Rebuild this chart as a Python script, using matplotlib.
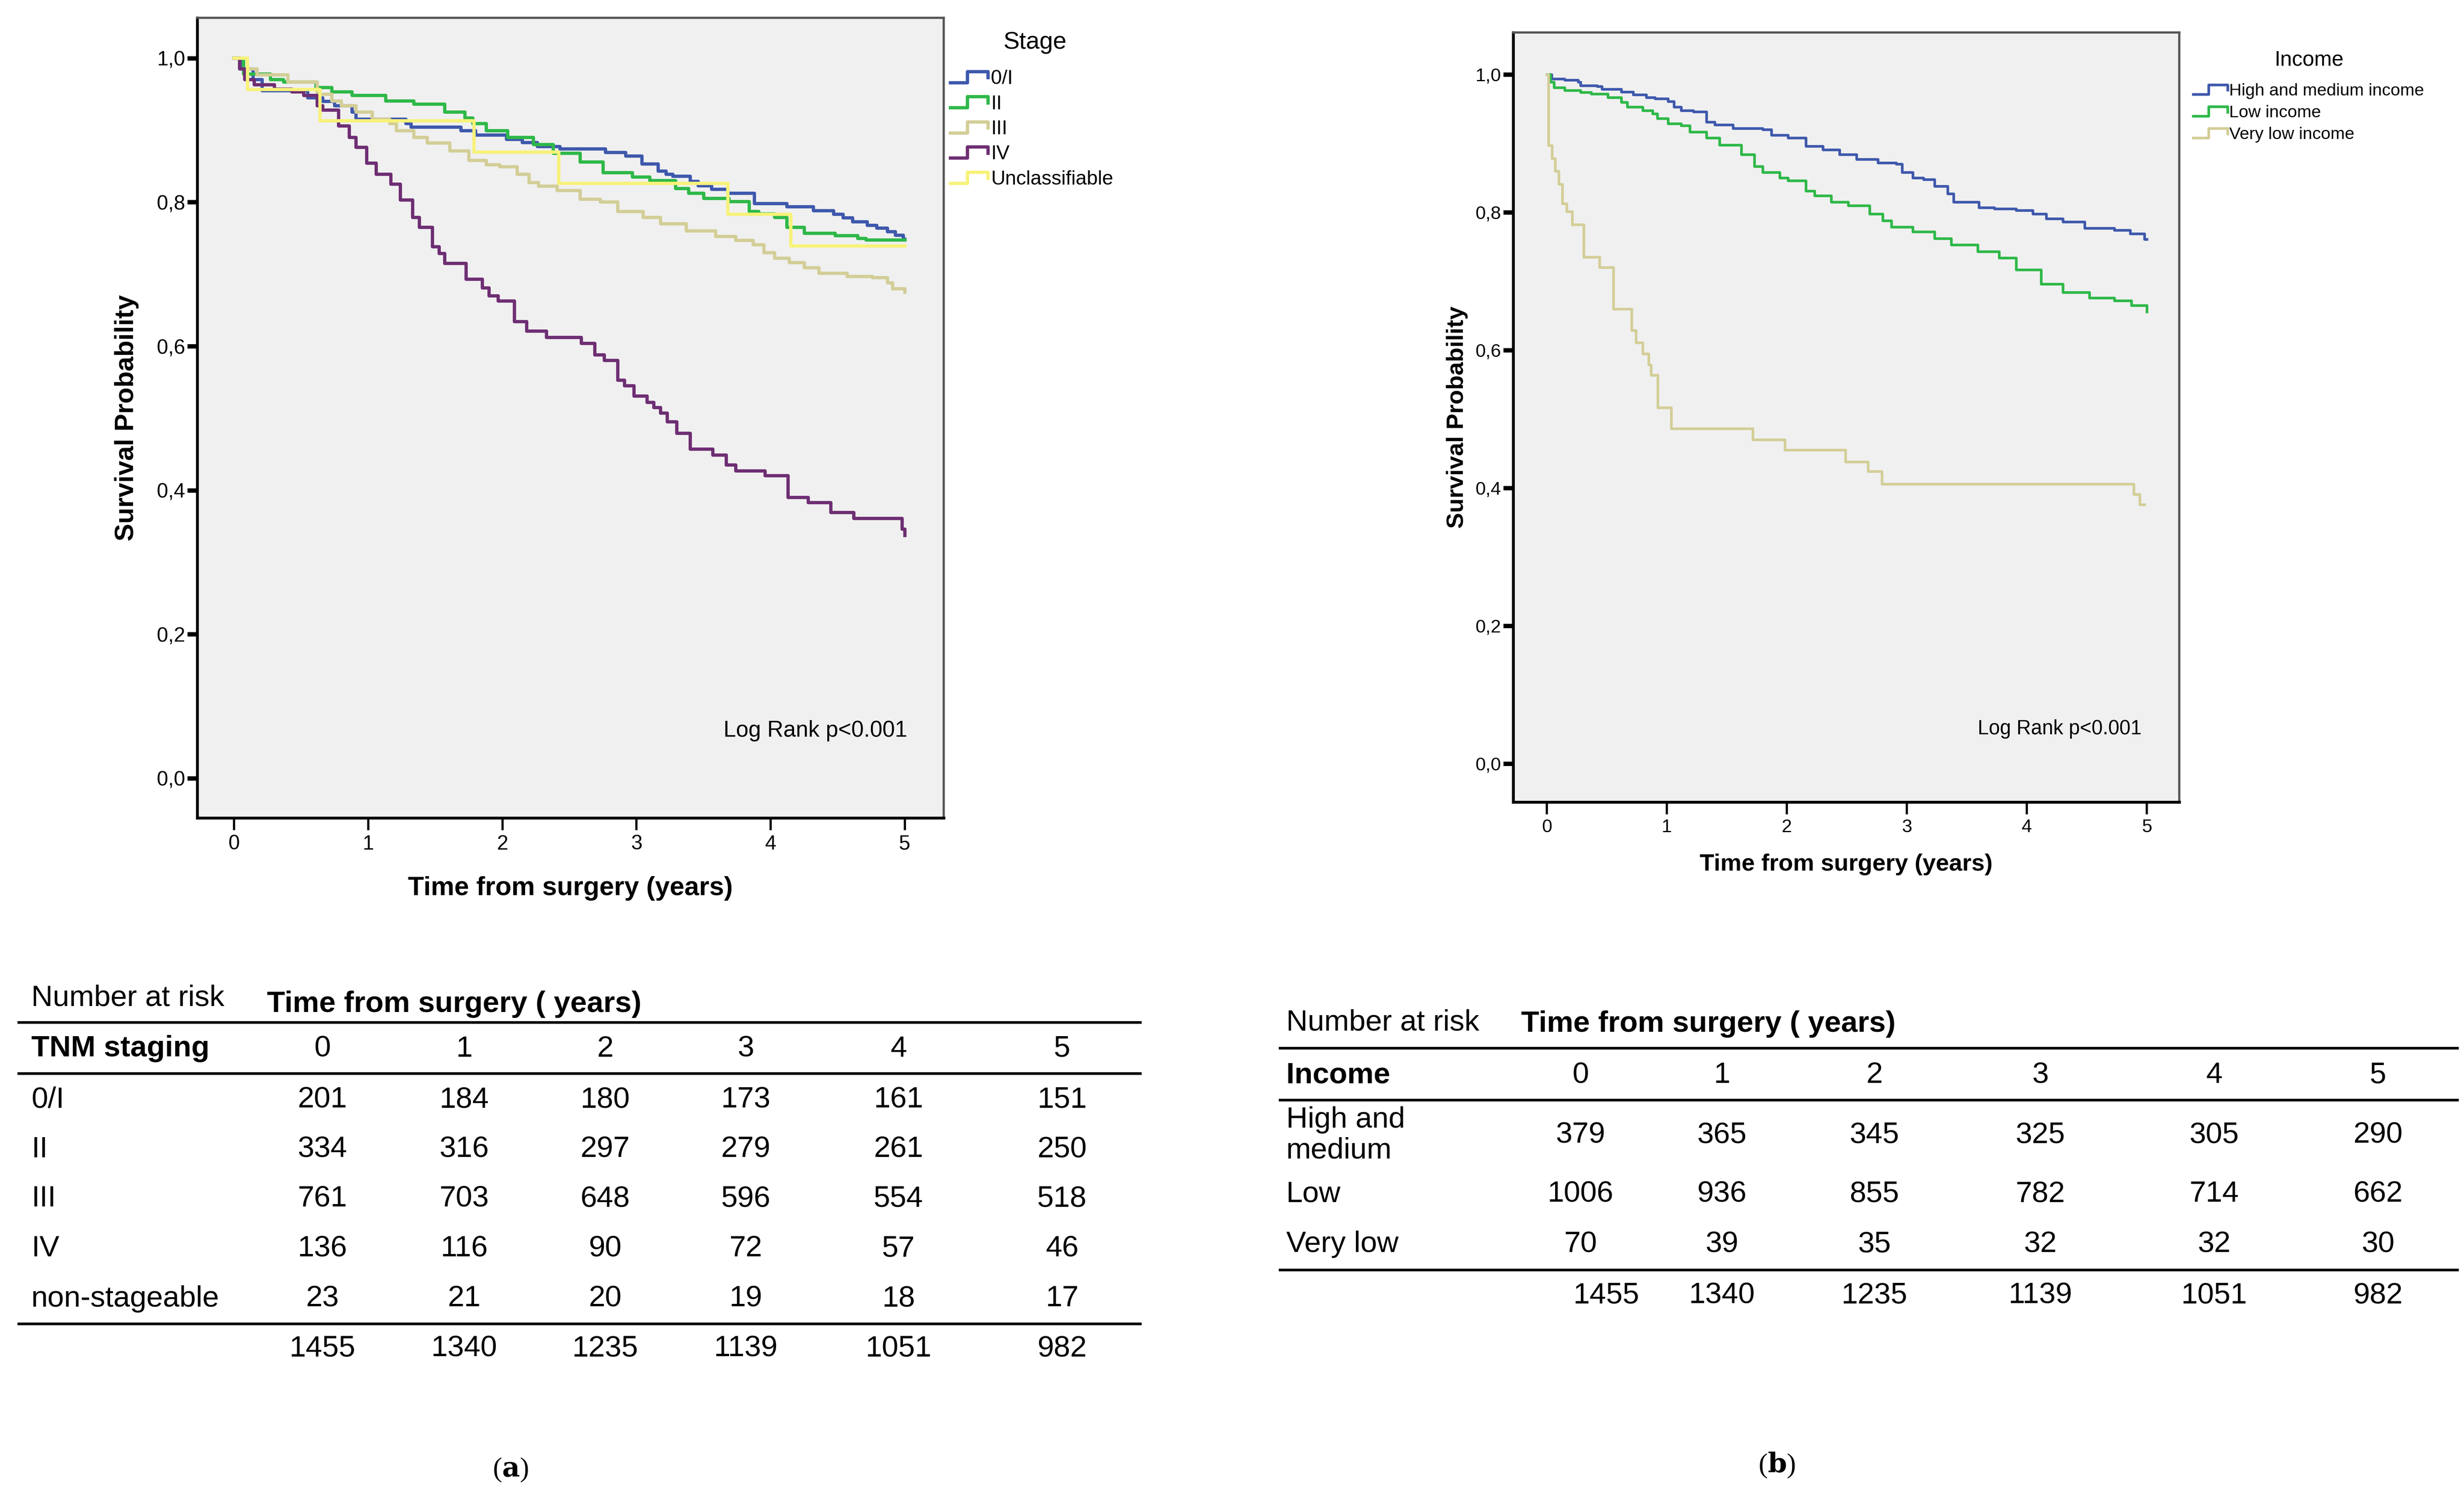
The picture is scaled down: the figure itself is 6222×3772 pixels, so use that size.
import numpy as np
import matplotlib.pyplot as plt
from matplotlib.lines import Line2D
from matplotlib.legend_handler import HandlerBase
from matplotlib.ticker import FuncFormatter

plt.rcParams['font.family'] = ['Liberation Sans', 'DejaVu Sans']
plt.rcParams['mathtext.fontset'] = 'dejavuserif'

# ---------------- panel (a): survival by TNM stage ----------------
stage_names = ['0/I', 'II', 'III', 'IV', 'Unclassifiable']
stage_colors = ['#3E58AC', '#2EB848', '#D3CE97', '#6E2E73', '#F7F27A']

t_0I = [0, 0.05, 0.14, 0.21, 0.55, 0.66, 0.75, 0.88, 0.91, 1.28, 1.32, 1.69, 1.80, 2.03, 2.15,
        2.26, 2.43, 2.77, 2.92, 3.04, 3.16, 3.22, 3.27, 3.40, 3.46, 3.56, 3.68, 3.88, 4.12, 4.32,
        4.47, 4.54, 4.61, 4.72, 4.79, 4.87, 4.93, 4.99, 5.0]
s_0I = [1.0, 0.985, 0.970, 0.955, 0.945, 0.940, 0.934, 0.925, 0.915, 0.909, 0.904, 0.899, 0.893,
        0.887, 0.883, 0.877, 0.874, 0.869, 0.864, 0.853, 0.843, 0.839, 0.836, 0.829, 0.823, 0.818,
        0.8125, 0.798, 0.7936, 0.788, 0.783, 0.778, 0.7727, 0.768, 0.764, 0.759, 0.754, 0.7485, 0.7485]

t_II = [0, 0.07, 0.27, 0.37, 0.61, 0.73, 0.88, 1.13, 1.34, 1.57, 1.72, 1.78, 1.88, 2.04, 2.23,
        2.38, 2.58, 2.75, 2.97, 3.10, 3.29, 3.39, 3.50, 3.69, 3.84, 3.91, 4.03, 4.12, 4.25, 4.48,
        4.65, 4.71, 5.0]
s_II = [1.0, 0.978, 0.970, 0.967, 0.959, 0.953, 0.948, 0.9405, 0.936, 0.925, 0.917, 0.909, 0.899,
        0.890, 0.880, 0.868, 0.856, 0.841, 0.835, 0.830, 0.819, 0.8125, 0.805, 0.801, 0.787, 0.784,
        0.779, 0.765, 0.757, 0.7536, 0.7494, 0.7473, 0.7473]

t_III = [0, 0.04, 0.17, 0.40, 0.62, 0.73, 0.80, 0.91, 1.03, 1.16, 1.21, 1.34, 1.44, 1.61, 1.75,
         1.88, 1.98, 2.11, 2.20, 2.27, 2.41, 2.58, 2.73, 2.86, 3.05, 3.18, 3.37, 3.59, 3.74, 3.87,
         3.95, 4.03, 4.14, 4.25, 4.36, 4.57, 4.76, 4.87, 4.91, 5.0]
s_III = [1.0, 0.985, 0.977, 0.967, 0.950, 0.9405, 0.934, 0.925, 0.915, 0.909, 0.899, 0.890, 0.882,
         0.871, 0.858, 0.852, 0.849, 0.839, 0.827, 0.822, 0.816, 0.804, 0.800, 0.787, 0.779, 0.770,
         0.760, 0.7525, 0.747, 0.741, 0.730, 0.722, 0.716, 0.709, 0.701, 0.697, 0.695, 0.688, 0.680,
         0.675]

t_IV = [0, 0.04, 0.08, 0.15, 0.30, 0.43, 0.52, 0.62, 0.66, 0.78, 0.86, 0.91, 0.99, 1.06, 1.17,
        1.24, 1.33, 1.38, 1.48, 1.53, 1.57, 1.73, 1.85, 1.90, 1.97, 2.09, 2.18, 2.33, 2.59, 2.69,
        2.76, 2.86, 2.91, 2.98, 3.08, 3.13, 3.18, 3.23, 3.30, 3.40, 3.57, 3.67, 3.74, 3.96, 4.13,
        4.28, 4.45, 4.62, 4.98, 5.0]
s_IV = [1.0, 0.985, 0.970, 0.963, 0.957, 0.953, 0.948, 0.934, 0.928, 0.906, 0.890, 0.876, 0.854,
        0.839, 0.825, 0.803, 0.779, 0.765, 0.738, 0.729, 0.715, 0.693, 0.681, 0.670, 0.6626, 0.634,
        0.621, 0.612, 0.604, 0.588, 0.580, 0.553, 0.545, 0.531, 0.522, 0.515, 0.507, 0.495, 0.479,
        0.457, 0.449, 0.435, 0.427, 0.420, 0.390, 0.383, 0.369, 0.361, 0.346, 0.337]

t_uncl = [0, 0.10, 0.64, 1.79, 2.42, 3.68, 4.15, 5.0]
s_uncl = [1.0, 0.9565, 0.913, 0.8696, 0.826, 0.783, 0.739, 0.739]

# ---------------- panel (b): survival by income ----------------
income_names = ['High and medium income', 'Low income', 'Very low income']
income_colors = ['#3E58AC', '#2EB848', '#D3CE97']

t_high = [0, 0.04, 0.15, 0.26, 0.28, 0.42, 0.46, 0.62, 0.72, 0.83, 0.90, 1.01, 1.06, 1.12, 1.22,
          1.33, 1.40, 1.55, 1.80, 1.87, 2.01, 2.16, 2.30, 2.44, 2.58, 2.76, 2.91, 2.96, 3.05, 3.14,
          3.23, 3.34, 3.39, 3.60, 3.73, 3.91, 4.05, 4.16, 4.30, 4.48, 4.73, 4.86, 4.98, 5.0]
s_high = [1.0, 0.994, 0.992, 0.989, 0.984, 0.983, 0.979, 0.975, 0.971, 0.967, 0.965, 0.961, 0.953,
          0.948, 0.946, 0.931, 0.927, 0.922, 0.920, 0.912, 0.908, 0.896, 0.891, 0.884, 0.877, 0.872,
          0.870, 0.858, 0.850, 0.848, 0.838, 0.827, 0.815, 0.807, 0.805, 0.803, 0.798, 0.791, 0.786,
          0.777, 0.774, 0.769, 0.761, 0.761]

t_low = [0, 0.03, 0.06, 0.15, 0.28, 0.37, 0.51, 0.62, 0.67, 0.80, 0.88, 0.92, 1.01, 1.12, 1.19,
         1.33, 1.44, 1.62, 1.73, 1.80, 1.94, 2.01, 2.16, 2.23, 2.37, 2.51, 2.69, 2.80, 2.87, 3.05,
         3.23, 3.37, 3.59, 3.77, 3.91, 4.12, 4.30, 4.52, 4.73, 4.87, 5.0]
s_low = [1.0, 0.989, 0.981, 0.977, 0.974, 0.972, 0.967, 0.960, 0.953, 0.948, 0.943, 0.936, 0.929,
         0.926, 0.917, 0.908, 0.898, 0.884, 0.867, 0.858, 0.850, 0.846, 0.831, 0.824, 0.815, 0.810,
         0.798, 0.788, 0.779, 0.772, 0.762, 0.753, 0.743, 0.734, 0.717, 0.696, 0.684, 0.676, 0.672,
         0.665, 0.656]

t_vlow = [0, 0.013, 0.043, 0.071, 0.099, 0.128, 0.166, 0.213, 0.308, 0.44, 0.554, 0.706, 0.744,
          0.80, 0.848, 0.867, 0.923, 1.037, 1.716, 1.985, 2.49, 2.676, 2.791, 4.892, 4.94, 4.98]
s_vlow = [1.0, 0.897, 0.878, 0.86, 0.841, 0.813, 0.801, 0.782, 0.735, 0.72, 0.66, 0.629, 0.611,
          0.595, 0.579, 0.564, 0.517, 0.486, 0.470, 0.455, 0.438, 0.424, 0.406, 0.391, 0.376, 0.376]

# ---------------- number at risk tables ----------------
risk_times = [0, 1, 2, 3, 4, 5]
stage_rows = ['0/I', 'II', 'III', 'IV', 'non-stageable']
risk_0I = [201, 184, 180, 173, 161, 151]
risk_II = [334, 316, 297, 279, 261, 250]
risk_III = [761, 703, 648, 596, 554, 518]
risk_IV = [136, 116, 90, 72, 57, 46]
risk_uncl = [23, 21, 20, 19, 18, 17]
income_rows = ['High and\nmedium', 'Low', 'Very low']
risk_high = [379, 365, 345, 325, 305, 290]
risk_low = [1006, 936, 855, 782, 714, 662]
risk_vlow = [70, 39, 35, 32, 32, 30]
risk_total = [1455, 1340, 1235, 1139, 1051, 982]

W, H = 6222, 3772


def fx(px):
    return px / W


def fy(py):
    return 1 - py / H


class StepIcon(HandlerBase):
    # SPSS-style little step glyph for the legend
    def create_artists(self, legend, orig, xd, yd, w, h, fs, trans):
        xs = np.array([0, 0.45, 0.45, 1.0, 1.0]) * w - xd
        ys = np.array([0.1, 0.1, 0.9, 0.9, 0.45]) * h - yd
        ln = Line2D(xs, ys, color=orig.get_color(), lw=orig.get_linewidth())
        ln.set_transform(trans)
        return [ln]


comma = FuncFormatter(lambda v, p: ('%.1f' % v).replace('.', ','))


def style_axes(ax, tick_fs, xlim, ylim):
    ax.set_facecolor('#F0F0F0')
    ax.set_xlim(*xlim)
    ax.set_ylim(*ylim)
    ax.set_xticks(risk_times)
    ax.set_yticks([0, 0.2, 0.4, 0.6, 0.8, 1.0])
    ax.yaxis.set_major_formatter(comma)
    ax.tick_params(axis='y', direction='out', length=4.5, width=2.0, pad=1, labelsize=tick_fs)
    ax.tick_params(axis='x', direction='out', length=5.5, width=1.0, pad=2, labelsize=tick_fs)
    for side in ['left', 'bottom']:
        ax.spines[side].set_color('black')
        ax.spines[side].set_linewidth(1.3)
    for side in ['top', 'right']:
        ax.spines[side].set_color('#555555')
        ax.spines[side].set_linewidth(1.0)


fig = plt.figure(figsize=(W / 400, H / 400), dpi=400)

# ---- left plot ----
ax1 = fig.add_axes([fx(498), fy(2065), fx(2383) - fx(498), fy(45) - fy(2065)])
style_axes(ax1, 9.3, (-0.275, 5.29), (-0.055, 1.056))
lines_a = []
for tt, ss, c in zip([t_0I, t_II, t_III, t_IV, t_uncl],
                     [s_0I, s_II, s_III, s_IV, s_uncl], stage_colors):
    ln, = ax1.step(tt, ss, where='post', color=c, lw=1.5)
    lines_a.append(ln)
ax1.set_xlabel('Time from surgery (years)', fontsize=12, fontweight='bold')
ax1.set_ylabel('Survival Probability', fontsize=12, fontweight='bold')
ax1.xaxis.set_label_coords(0.5, -0.073)
ax1.yaxis.set_label_coords(-0.078, 0.5)
ax1.text(0.951, 0.109, 'Log Rank p<0.001', transform=ax1.transAxes, ha='right', va='center',
         fontsize=10.2)
fig.text(fx(2613), fy(108), 'Stage', ha='center', va='center', fontsize=11)
fig.legend(lines_a, stage_names, loc='upper left', bbox_to_anchor=(fx(2400), fy(176)),
           frameon=False, fontsize=9.0,
           handler_map={Line2D: StepIcon()}, handlelength=1.9, handletextpad=0.15,
           labelspacing=0.35, borderpad=0, borderaxespad=0)

# ---- right plot ----
ax2 = fig.add_axes([fx(3821), fy(2025), fx(5503) - fx(3821), fy(82) - fy(2025)])
style_axes(ax2, 8.4, (-0.28, 5.27), (-0.0557, 1.061))
lines_b = []
for tt, ss, c in zip([t_high, t_low, t_vlow], [s_high, s_low, s_vlow], income_colors):
    ln, = ax2.step(tt, ss, where='post', color=c, lw=1.2)
    lines_b.append(ln)
ax2.set_xlabel('Time from surgery (years)', fontsize=10.8, fontweight='bold')
ax2.set_ylabel('Survival Probability', fontsize=10.8, fontweight='bold')
ax2.xaxis.set_label_coords(0.5, -0.067)
ax2.yaxis.set_label_coords(-0.068, 0.5)
ax2.text(0.9435, 0.095, 'Log Rank p<0.001', transform=ax2.transAxes, ha='right', va='center',
         fontsize=9.1)
fig.text(fx(5831), fy(152), 'Income', ha='center', va='center', fontsize=9.6)
fig.legend(lines_b, income_names, loc='upper left', bbox_to_anchor=(fx(5538), fy(210)),
           frameon=False, fontsize=7.8,
           handler_map={Line2D: StepIcon()}, handlelength=2.0, handletextpad=0.1,
           labelspacing=0.35, borderpad=0, borderaxespad=0)

# ---- number at risk tables ----
FS = 13.5


def hline(x0, x1, y):
    fig.add_artist(Line2D([fx(x0), fx(x1)], [fy(y), fy(y)], color='black', lw=1.2,
                          transform=fig.transFigure))


def put(x, y, s, ha='center', bold=False, **kw):
    fig.text(fx(x), fy(y), s, ha=ha, va='center', fontsize=FS,
             fontweight='bold' if bold else 'normal', **kw)


# table (a)
col_a = [814, 1172, 1528, 1883, 2269, 2682]
rows_a_y = [2777, 2902, 3027, 3153, 3279]
put(79, 2520, 'Number at risk', ha='left')
put(674, 2535, 'Time from surgery ( years)', ha='left', bold=True)
hline(47, 2879, 2581)
put(79, 2648, 'TNM staging', ha='left', bold=True)
for x, t in zip(col_a, risk_times):
    put(x, 2648, str(t))
hline(47, 2879, 2710)
for y, name, vals in zip(rows_a_y, stage_rows, [risk_0I, risk_II, risk_III, risk_IV, risk_uncl]):
    put(79, y, name, ha='left')
    for x, v in zip(col_a, vals):
        put(x, y, str(v))
hline(47, 2879, 3342)
for x, v in zip(col_a, risk_total):
    put(x, 3405, str(v))

# table (b)
col_b = [3991, 4348, 4733, 5152, 5591, 6005]
rows_b_y = [2866, 3015, 3142]
put(3248, 2582, 'Number at risk', ha='left')
put(3841, 2585, 'Time from surgery ( years)', ha='left', bold=True)
hline(3232, 6205, 2646)
put(3248, 2715, 'Income', ha='left', bold=True)
for x, t in zip(col_b, risk_times):
    put(x, 2715, str(t))
hline(3232, 6205, 2777)
for y, name, vals in zip(rows_b_y, income_rows, [risk_high, risk_low, risk_vlow]):
    put(3248, y, name, ha='left', linespacing=1.15)
    for x, v in zip(col_b, vals):
        put(x, y, str(v))
hline(3232, 6205, 3206)
for i, (x, v) in enumerate(zip(col_b, risk_total)):
    put(x + (65 if i == 0 else 0), 3271, str(v))

# captions
fig.text(fx(1289), fy(3711), r'($\mathbf{a}$)', ha='center', va='center', fontsize=12.5,
         family=['Liberation Serif', 'DejaVu Serif'])
fig.text(fx(4487), fy(3699), r'($\mathbf{b}$)', ha='center', va='center', fontsize=12.5,
         family=['Liberation Serif', 'DejaVu Serif'])

fig.savefig('out.png', dpi=400, facecolor='white')
